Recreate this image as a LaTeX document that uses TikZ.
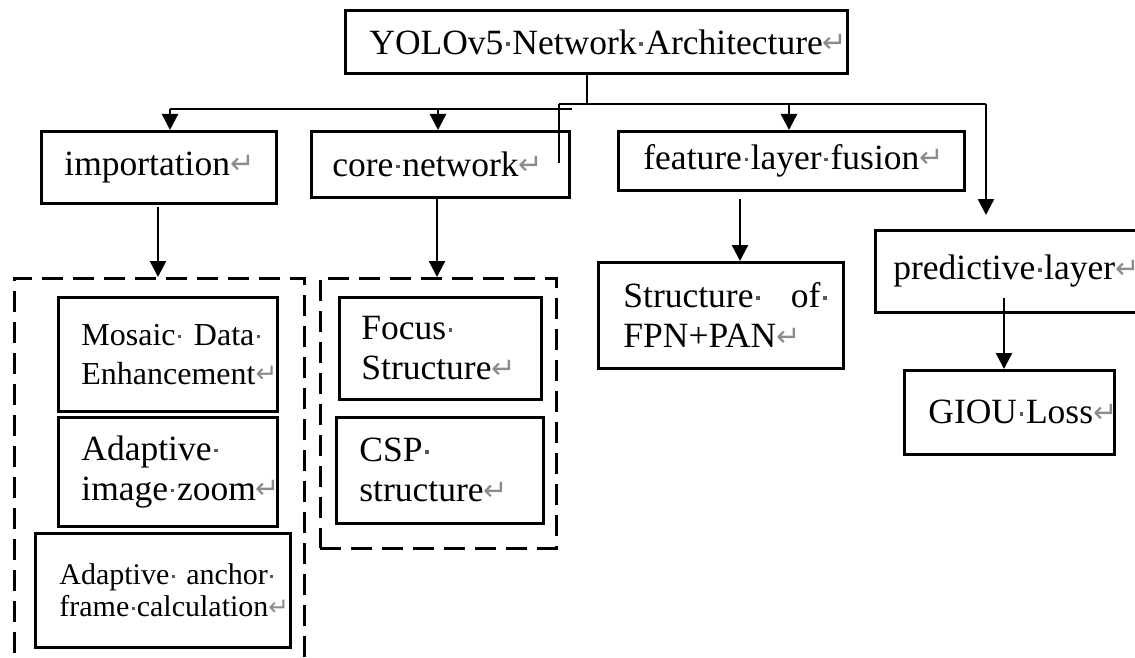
\documentclass[tikz,border=0pt]{standalone}
\usepackage{fontspec}
\setmainfont{Liberation Serif}
\newfontfamily\symfont{DejaVu Sans}
\usetikzlibrary{arrows.meta}

% formatting marks: space dot and paragraph return
\newcommand\wsp{\makebox[0.25em][c]{\raisebox{0.23em}{\color{black!65}\rule{0.1em}{0.1em}}}}
\newcommand\pmark{\textcolor{gray!90}{\raisebox{0.05em}{\scalebox{0.82}{\symfont ↵}}}}

\tikzset{
  every node/.style={font=\fontsize{35.5}{40}\selectfont},
  box/.style={draw, line width=2.8pt, rectangle, anchor=north west,
              align=left, inner ysep=0pt},
  group/.style={draw, line width=2.6pt, dash pattern=on 21pt off 10pt},
  link/.style={line width=2.4pt},
  arr/.style={line width=2.4pt, -{Triangle[length=16pt,width=16pt]}},
}

\begin{document}
\begin{tikzpicture}[x=1pt,y=-1pt]
\clip (0,0) rectangle (1135,658);
\fill[white] (0,0) rectangle (1135,658);

% ---- top level
\node[box, minimum width=502pt, minimum height=63pt, inner xsep=24pt, text width=454pt]
  (top) at (344,9) {YOLOv5\wsp Network\wsp Architecture\pmark};

% ---- second level
\node[box, minimum width=235pt, minimum height=72pt, inner xsep=23pt, text width=189pt]
  (imp) at (40,130) {importation\pmark};
\node[box, minimum width=258pt, minimum height=66pt, inner xsep=21pt, text width=216pt]
  (core) at (310,130) {core\wsp network\pmark};
\node[box, minimum width=346pt, minimum height=59pt, inner xsep=25pt, text width=296pt]
  (feat) at (617,130) {feature\wsp layer\wsp fusion\pmark};
\node[box, minimum width=270pt, minimum height=82pt, inner xsep=18pt, text width=234pt]
  (pred) at (874,229) {predictive\wsp layer\pmark};

% ---- dashed groups
\node[group, anchor=north west, minimum width=290pt, minimum height=430pt, inner sep=0pt]
  (g1) at (13,277) {};
\node[group, anchor=north west, minimum width=236pt, minimum height=270pt, inner sep=0pt]
  (g2) at (319,277) {};

% ---- importation items
\node[box, minimum width=219pt, minimum height=114pt, inner xsep=23pt, text width=173pt,
      font=\fontsize{32}{39}\selectfont]
  (mos) at (57,296) {\hbox to 181pt{Mosaic\wsp\hfil Data\wsp}\\Enhancement\pmark};
\node[box, minimum width=219pt, minimum height=109pt, inner xsep=23pt, text width=173pt]
  (zoom) at (57,416) {Adaptive\wsp\\image\wsp zoom\pmark};
\node[box, minimum width=255pt, minimum height=114pt, inner xsep=24pt, text width=207pt,
      font=\fontsize{30}{32}\selectfont]
  (anch) at (34,532) {\hbox to 216pt{Adaptive\wsp\hfil anchor\wsp}\\frame\wsp calculation\pmark};

% ---- core network items
\node[box, minimum width=202pt, minimum height=102pt, inner xsep=22pt, text width=158pt]
  (focus) at (338,296) {Focus\wsp\\Structure\pmark};
\node[box, minimum width=207pt, minimum height=106pt, inner xsep=23pt, text width=161pt]
  (csp) at (335,416) {CSP\wsp\\structure\pmark};

% ---- fusion and prediction items
\node[box, minimum width=245pt, minimum height=106pt, inner xsep=25pt, text width=195pt]
  (fpn) at (597,261) {\hbox to 206pt{Structure\wsp\hfil of\wsp}\\FPN+PAN\pmark};
\node[box, minimum width=210pt, minimum height=84pt, inner xsep=24pt, text width=162pt]
  (giou) at (903,369) {GIOU\wsp Loss\pmark};

% ---- bus lines below the title
\coordinate (trunk) at (587,104);
\coordinate (busA) at (170,109);
\coordinate (busAend) at (572,109);
\coordinate (busB) at (559,104);
\coordinate (busBend) at (986,104);
\coordinate (stub) at (559,163);
\coordinate (predtip) at (986,215);

\draw[link] (top.south -| trunk) -- (trunk);
\draw[link] (busA) -- (busAend);
\draw[link] (busB) -- (busBend);
\draw[link] (busB) -- (stub);

\draw[arr] (busA) -- (imp.north -| busA);
\draw[arr] (438,109) -- (core.north -| 438,0);
\draw[arr] (789,104) -- (feat.north -| 789,0);
\draw[arr] (busBend) -- (predtip);

% ---- arrows into the detail boxes
\draw[arr] (158,207) -- (g1.north -| 158,0);
\draw[arr] (437,198) -- (g2.north -| 437,0);
\draw[arr] (740,199) -- (fpn.north -| 740,0);
\draw[arr] (1004,298) -- (giou.north -| 1004,0);
\end{tikzpicture}
\end{document}
